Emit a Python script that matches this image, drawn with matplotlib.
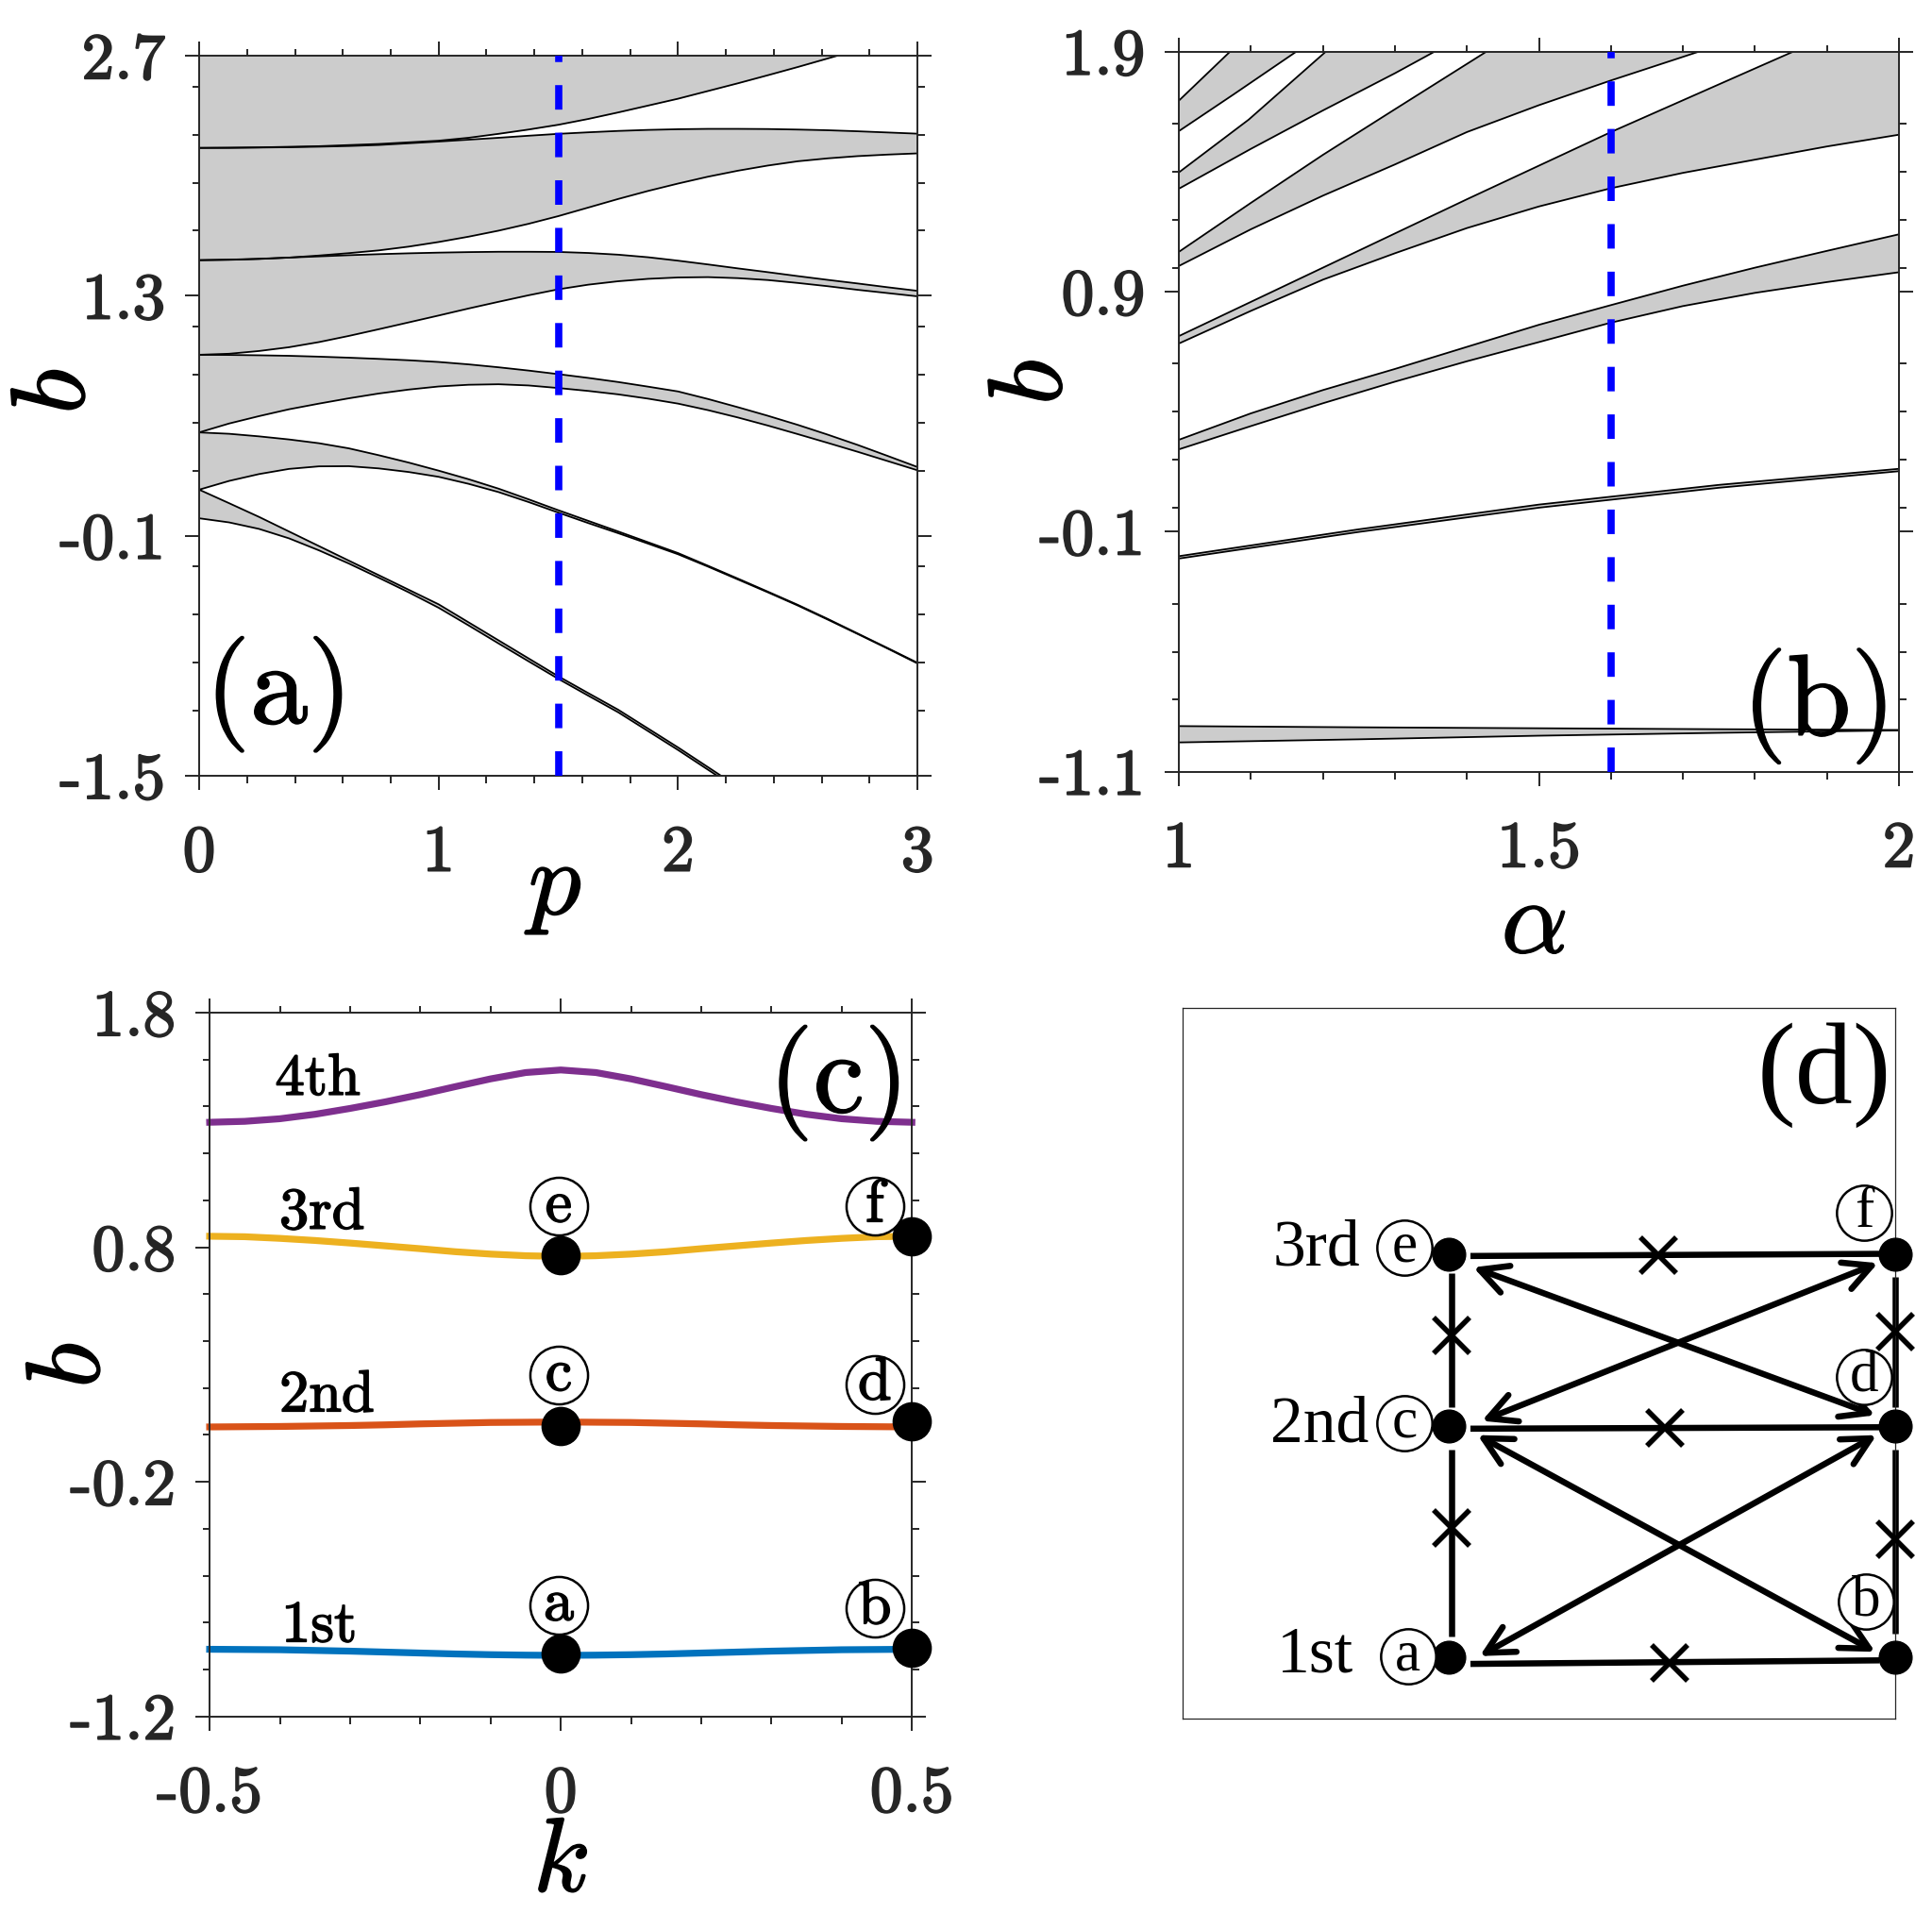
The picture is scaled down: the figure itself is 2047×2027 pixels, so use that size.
import matplotlib
matplotlib.use('Agg')
import matplotlib.pyplot as plt
import matplotlib.patheffects as pe
from matplotlib.ticker import FixedLocator, FixedFormatter
from matplotlib.patches import FancyArrowPatch
import numpy as np

plt.rcParams['mathtext.fontset'] = 'cm'
plt.rcParams['axes.unicode_minus'] = False

INK = '#262626'
GRAY = '#cccccc'
BLUE = '#0000ff'

# ---------------- panel (a): bands vs p ----------------
p_A1 = [0, 0.25, 0.5, 0.75, 1.0, 1.125, 1.25, 1.375, 1.5, 1.625, 1.75, 1.875, 2.0,
        2.125, 2.25, 2.375, 2.5, 2.663]
b_A1 = [2.163, 2.166, 2.173, 2.186, 2.205, 2.222, 2.245, 2.27, 2.298, 2.332, 2.37, 2.41, 2.45,
        2.495, 2.54, 2.587, 2.635, 2.70]

p_grid = [0, 0.125, 0.25, 0.375, 0.5, 0.625, 0.75, 0.875, 1.0, 1.125, 1.25, 1.375, 1.5,
          1.625, 1.75, 1.875, 2.0, 2.125, 2.25, 2.375, 2.5, 2.625, 2.75, 2.875, 3.0]
b_B_up = [2.163, 2.163, 2.165, 2.167, 2.17, 2.174, 2.18, 2.19, 2.2, 2.211, 2.222, 2.234, 2.245,
          2.254, 2.262, 2.268, 2.272, 2.274, 2.274, 2.273, 2.27, 2.266, 2.26, 2.253, 2.246]
b_B_lo = [1.508, 1.51, 1.515, 1.523, 1.535, 1.549, 1.565, 1.587, 1.614, 1.645, 1.68, 1.72, 1.765,
          1.815, 1.865, 1.912, 1.955, 1.995, 2.03, 2.06, 2.085, 2.102, 2.115, 2.124, 2.131]
b_C_up = [1.508, 1.511, 1.516, 1.523, 1.53, 1.537, 1.543, 1.548, 1.552, 1.555, 1.557, 1.557, 1.556,
          1.55, 1.54, 1.525, 1.505, 1.483, 1.46, 1.438, 1.415, 1.393, 1.372, 1.35, 1.329]
b_C_lo = [0.956, 0.962, 0.978, 1.0, 1.03, 1.066, 1.105, 1.145, 1.185, 1.226, 1.265, 1.303, 1.338,
          1.365, 1.385, 1.399, 1.407, 1.409, 1.403, 1.392, 1.375, 1.356, 1.335, 1.316, 1.297]
b_D_up = [0.956, 0.955, 0.953, 0.95, 0.945, 0.939, 0.932, 0.924, 0.914, 0.9, 0.883, 0.864, 0.843,
          0.821, 0.797, 0.77, 0.742, 0.698, 0.65, 0.6, 0.547, 0.49, 0.43, 0.366, 0.301]
b_D_lo = [0.503, 0.555, 0.598, 0.638, 0.671, 0.702, 0.73, 0.753, 0.771, 0.781, 0.784, 0.777, 0.762,
          0.745, 0.725, 0.7, 0.671, 0.633, 0.59, 0.543, 0.493, 0.442, 0.39, 0.336, 0.282]
b_E_up = [0.503, 0.495, 0.48, 0.462, 0.44, 0.41, 0.37, 0.327, 0.28, 0.23, 0.175, 0.113, 0.049,
          -0.013, -0.075, -0.138, -0.201, -0.275, -0.35, -0.426, -0.503, -0.585, -0.67, -0.755, -0.841]
b_E_lo = [0.169, 0.22, 0.26, 0.29, 0.305, 0.306, 0.293, 0.272, 0.244, 0.203, 0.155, 0.097, 0.035,
          -0.026, -0.085, -0.146, -0.208, -0.28, -0.355, -0.43, -0.507, -0.589, -0.673, -0.758, -0.845]

p_F = [0, 0.125, 0.25, 0.375, 0.5, 0.625, 0.75, 0.875, 1.0, 1.125, 1.25, 1.375, 1.5,
       1.625, 1.75, 1.875, 2.0, 2.125, 2.25]
b_F_up = [0.169, 0.09, 0.01, -0.075, -0.16, -0.245, -0.33, -0.415, -0.5, -0.605, -0.71, -0.815,
          -0.92, -1.018, -1.115, -1.225, -1.335, -1.45, -1.565]
b_F_lo = [0.002, -0.022, -0.06, -0.115, -0.185, -0.262, -0.345, -0.43, -0.52, -0.623, -0.728,
          -0.832, -0.935, -1.033, -1.13, -1.24, -1.35, -1.465, -1.58]

p_cut = 1.5

# ---------------- panel (b): bands vs alpha ----------------
a_L1 = [1.0, 1.071, 1.12];                      b_L1 = [1.696, 1.9, 2.04]
a_L2 = [1.0, 1.076, 1.163, 1.2];                b_L2 = [1.569, 1.722, 1.9, 1.975]
a_L3 = [1.0, 1.097, 1.204, 1.25];               b_L3 = [1.397, 1.617, 1.9, 2.02]
a_L4 = [1.0, 1.1, 1.2, 1.3, 1.355, 1.4];        b_L4 = [1.329, 1.495, 1.655, 1.81, 1.9, 1.97]
a_L5 = [1.0, 1.1, 1.2, 1.3, 1.427, 1.5, 1.8];   b_L5 = [1.066, 1.27, 1.47, 1.66, 1.9, 2.03, 2.5]
a_L6 = [1.0, 1.1, 1.2, 1.3, 1.4, 1.5, 1.6, 1.722, 1.8]
b_L6 = [1.007, 1.16, 1.3, 1.43, 1.565, 1.677, 1.78, 1.9, 1.98]
a_L7 = [1.0, 1.2, 1.4, 1.6, 1.8, 1.853, 2.0]
b_L7 = [0.715, 1.0, 1.285, 1.565, 1.83, 1.9, 2.09]
a_grid = [1.0, 1.1, 1.2, 1.3, 1.4, 1.5, 1.6, 1.7, 1.8, 1.9, 2.0]
b_L8 = [0.684, 0.82, 0.95, 1.06, 1.165, 1.255, 1.331, 1.395, 1.45, 1.505, 1.554]
b_L9 = [0.283, 0.393, 0.49, 0.578, 0.67, 0.762, 0.844, 0.925, 1.0, 1.07, 1.139]
b_L10 = [0.243, 0.34, 0.435, 0.525, 0.61, 0.69, 0.771, 0.84, 0.895, 0.94, 0.981]
a_q = [1.0, 1.25, 1.5, 1.75, 2.0]
b_L11u = [-0.202, -0.09, 0.013, 0.095, 0.162]
b_L11l = [-0.212, -0.101, 0.0, 0.083, 0.152]
b_L12 = [-0.910, -0.915, -0.919, -0.923, -0.926]
b_L13 = [-0.978, -0.965, -0.950, -0.938, -0.928]

a_cut = 1.6

# ---------------- panel (c): dispersion over k ----------------
k_vals = [-0.5, -0.45, -0.4, -0.35, -0.3, -0.25, -0.2, -0.15, -0.1, -0.05, 0,
          0.05, 0.1, 0.15, 0.2, 0.25, 0.3, 0.35, 0.4, 0.45, 0.5]
band4 = [1.333, 1.337, 1.348, 1.367, 1.392, 1.42, 1.451, 1.485, 1.518, 1.545, 1.556,
         1.545, 1.518, 1.485, 1.451, 1.42, 1.392, 1.367, 1.348, 1.337, 1.333]
band3 = [0.847, 0.845, 0.838, 0.829, 0.818, 0.806, 0.794, 0.781, 0.771, 0.764, 0.761,
         0.764, 0.771, 0.781, 0.794, 0.806, 0.818, 0.829, 0.838, 0.845, 0.847]
band2 = [0.034, 0.035, 0.036, 0.038, 0.04, 0.043, 0.047, 0.05, 0.053, 0.054, 0.055,
         0.054, 0.053, 0.05, 0.047, 0.043, 0.04, 0.038, 0.036, 0.035, 0.034]
band1 = [-0.914, -0.915, -0.916, -0.919, -0.922, -0.926, -0.93, -0.934, -0.937, -0.939, -0.94,
         -0.939, -0.937, -0.934, -0.93, -0.926, -0.922, -0.919, -0.916, -0.915, -0.914]
band_names = ['1st', '2nd', '3rd', '4th']
band_colors = ['#0072BD', '#D95319', '#EDB120', '#7E2F8E']
name_k = [-0.344, -0.333, -0.34, -0.346]
name_b = [-0.818, 0.164, 0.943, 1.514]

dot_k = [0, 0.5]
dot_b = {'1st': [-0.932, -0.909], '2nd': [0.039, 0.06], '3rd': [0.766, 0.847]}
circ_letters = ['a', 'b', 'c', 'd', 'e', 'f']
circ_k = [-0.003, 0.447, -0.003, 0.447, -0.003, 0.447]
circ_b = [-0.725, -0.74, 0.255, 0.216, 0.974, 0.974]

# ---------------- panel (d): coupling diagram ----------------
nodes = {'e': (0.374, 0.654), 'f': (1.0, 0.654),
         'c': (0.374, 0.412), 'd': (1.0, 0.412),
         'a': (0.374, 0.086), 'b': (1.0, 0.086)}
row_names = ['3rd', '2nd', '1st']
row_pos = [(0.188, 0.661), (0.192, 0.412), (0.186, 0.088)]
d_letter_pos = {'e': (0.311, 0.663), 'c': (0.311, 0.416), 'a': (0.316, 0.088),
                'f': (0.957, 0.712), 'd': (0.957, 0.481), 'b': (0.959, 0.165)}
plain_links = [((0.404, 0.651), (0.978, 0.654)),
               ((0.404, 0.408), (0.978, 0.410)),
               ((0.404, 0.077), (0.978, 0.082)),
               ((0.378, 0.627), (0.378, 0.438)),
               ((0.378, 0.378), (0.378, 0.116)),
               ((1.0, 0.622), (1.0, 0.438)),
               ((1.0, 0.378), (1.0, 0.120))]
cross_pts = [(0.668, 0.652), (0.677, 0.409), (0.684, 0.079),
             (0.378, 0.539), (0.378, 0.268), (1.0, 0.545), (1.0, 0.253)]
arrow_links = [((0.408, 0.635), (0.972, 0.427)),
               ((0.976, 0.641), (0.420, 0.419)),
               ((0.414, 0.399), (0.972, 0.094)),
               ((0.417, 0.088), (0.974, 0.399))]

TICK_FS = 50
LABEL_FS = 80
PANEL_FS = 88
BOLD = [pe.withStroke(linewidth=1.3, foreground=INK)]
BOLDK = [pe.withStroke(linewidth=1.1, foreground='k')]


def style_axes(ax, xlim, ylim, xmaj, xlab, xmin, ymaj, ylab, ymin):
    ax.set_xlim(xlim)
    ax.set_ylim(ylim)
    ax.xaxis.set_major_locator(FixedLocator(xmaj))
    ax.xaxis.set_major_formatter(FixedFormatter(xlab))
    ax.xaxis.set_minor_locator(FixedLocator(xmin))
    ax.yaxis.set_major_locator(FixedLocator(ymaj))
    ax.yaxis.set_major_formatter(FixedFormatter(ylab))
    ax.yaxis.set_minor_locator(FixedLocator(ymin))
    ax.tick_params(which='both', direction='out', top=True, right=True,
                   color=INK, width=1.4, labelcolor=INK,
                   labelsize=TICK_FS, labelfontfamily='cmr10')
    ax.tick_params(which='major', length=10.8)
    ax.tick_params(which='minor', length=5.4)
    ax.tick_params(axis='x', which='major', pad=27)
    ax.tick_params(axis='y', which='major', pad=15)
    for s in ax.spines.values():
        s.set_linewidth(1.4)
        s.set_color(INK)


def band(ax, xl, yl, xu, yu):
    ax.fill(np.concatenate([xl, xu[::-1]]), np.concatenate([yl, yu[::-1]]),
            color=GRAY, lw=0, zorder=1)
    ax.plot(xl, yl, color='k', lw=1.3, zorder=2)
    ax.plot(xu, yu, color='k', lw=1.3, zorder=2)


fig = plt.figure(figsize=(20.47, 20.27), dpi=100)

# ---- (a)
axa = fig.add_axes([0.1031, 0.5945, 0.3718, 0.3763])
style_axes(axa, (0, 3), (-1.5, 2.7), [0, 1, 2, 3], ['0', '1', '2', '3'],
           np.arange(0, 3.01, 0.2), [-1.5, -0.1, 1.3, 2.7], ['-1.5', '-0.1', '1.3', '2.7'],
           [-1.12, -0.84, -0.56, -0.28, 0.28, 0.56, 0.84, 1.12, 1.68, 1.96, 2.24, 2.52])
axa.fill_between(p_A1, b_A1, 2.7, color=GRAY, lw=0, zorder=1)
axa.plot(p_A1, b_A1, color='k', lw=1.3, zorder=2)
pg = np.array(p_grid)
band(axa, pg, np.array(b_B_lo), pg, np.array(b_B_up))
band(axa, pg, np.array(b_C_lo), pg, np.array(b_C_up))
band(axa, pg, np.array(b_D_lo), pg, np.array(b_D_up))
band(axa, pg, np.array(b_E_lo), pg, np.array(b_E_up))
pf = np.array(p_F)
band(axa, pf, np.array(b_F_lo), pf, np.array(b_F_up))
axa.plot([p_cut, p_cut], [-1.5, 2.7], color=BLUE, lw=5.5, ls=(0, (3.4, 3.2)), zorder=3)
axa.text(0.111, 0.113, '(a)', transform=axa.transAxes, ha='center', va='center',
         family='cmr10', fontsize=PANEL_FS, path_effects=BOLDK)
axa.text(-0.2, 0.534, '$b$', transform=axa.transAxes, ha='center', va='center',
         fontsize=LABEL_FS, rotation=90, path_effects=BOLDK)
axa.text(0.498, -0.153, '$p$', transform=axa.transAxes, ha='center', va='center',
         fontsize=LABEL_FS, path_effects=BOLDK)

# ---- (b)
axb = fig.add_axes([0.6102, 0.5966, 0.3727, 0.3764])
style_axes(axb, (1, 2), (-1.1, 1.9), [1, 1.5, 2], ['1', '1.5', '2'],
           np.arange(1, 2.001, 0.1), [-1.1, -0.1, 0.9, 1.9], ['-1.1', '-0.1', '0.9', '1.9'],
           [-0.8, -0.6, -0.4, 0, 0.2, 0.4, 0.6, 1.0, 1.2, 1.4, 1.6])
A = np.array
band(axb, A(a_L2), A(b_L2), A(a_L1), A(b_L1))
band(axb, A(a_L4), A(b_L4), A(a_L3), A(b_L3))
band(axb, A(a_L6), A(b_L6), A(a_L5), A(b_L5))
band(axb, A(a_grid), A(b_L8), A(a_L7), A(b_L7))
band(axb, A(a_grid), A(b_L10), A(a_grid), A(b_L9))
band(axb, A(a_q), A(b_L11l), A(a_q), A(b_L11u))
band(axb, A(a_q), A(b_L13), A(a_q), A(b_L12))
axb.plot([a_cut, a_cut], [-1.1, 1.9], color=BLUE, lw=5.5, ls=(0, (3.4, 3.2)), zorder=3)
axb.text(0.889, 0.091, '(b)', transform=axb.transAxes, ha='center', va='center',
         family='cmr10', fontsize=PANEL_FS, path_effects=BOLDK)
axb.text(-0.203, 0.541, '$b$', transform=axb.transAxes, ha='center', va='center',
         fontsize=LABEL_FS, rotation=90, path_effects=BOLDK)
axb.text(0.493, -0.212, r'$\alpha$', transform=axb.transAxes, ha='center', va='center',
         fontsize=LABEL_FS, path_effects=BOLDK)

# ---- (c)
axc = fig.add_axes([0.1085, 0.1028, 0.3635, 0.3678])
style_axes(axc, (-0.5, 0.5), (-1.2, 1.8), [-0.5, 0, 0.5], ['-0.5', '0', '0.5'],
           np.arange(-0.5, 0.501, 0.1), [-1.2, -0.2, 0.8, 1.8], ['-1.2', '-0.2', '0.8', '1.8'],
           np.arange(-1.2, 1.801, 0.2))
for vals, name, col, tk, tb in zip([band1, band2, band3, band4], band_names, band_colors,
                                   name_k, name_b):
    axc.plot(k_vals, vals, color=col, lw=5.2, zorder=2, clip_on=False)
    axc.text(tk, tb, name, ha='center', va='center', family='cmr10', fontsize=45,
             path_effects=BOLDK)
    if name in dot_b:
        axc.plot(dot_k, dot_b[name], 'o', color='k', ms=29, zorder=4, clip_on=False)
for let, ck, cb in zip(circ_letters, circ_k, circ_b):
    axc.plot(ck, cb, 'o', ms=44, mfc='white', mec='k', mew=1.8, zorder=5, clip_on=False)
    axc.text(ck, cb, let, ha='center', va='center', family='cmr10', fontsize=46, zorder=6,
             path_effects=BOLDK)
axc.text(0.896, 0.9, '(c)', transform=axc.transAxes, ha='center', va='center',
         family='cmr10', fontsize=PANEL_FS, path_effects=BOLDK)
axc.text(-0.198, 0.499, '$b$', transform=axc.transAxes, ha='center', va='center',
         fontsize=LABEL_FS, rotation=90, path_effects=BOLDK)
axc.text(0.5, -0.208, '$k$', transform=axc.transAxes, ha='center', va='center',
         fontsize=LABEL_FS, path_effects=BOLDK)

# ---- (d)
axd = fig.add_axes([0.6121, 0.1016, 0.3688, 0.3715])
axd.set_xlim(0, 1)
axd.set_ylim(0, 1)
axd.set_xticks([])
axd.set_yticks([])
for s in axd.spines.values():
    s.set_linewidth(0.9)
    s.set_color(INK)
SERIF = 'Liberation Serif'
for (x0, y0), (x1, y1) in plain_links:
    axd.plot([x0, x1], [y0, y1], color='k', lw=4.7, solid_capstyle='butt', clip_on=False)
for x, y in cross_pts:
    axd.plot(x, y, marker='x', color='k', ms=27, mew=4.0, clip_on=False, zorder=4)
for p0, p1 in arrow_links:
    axd.add_patch(FancyArrowPatch(p0, p1, arrowstyle='<->,head_length=0.7,head_width=0.36',
                                  mutation_scale=30, lw=4.7, color='k', shrinkA=0, shrinkB=0,
                                  transform=axd.transAxes, clip_on=False, zorder=3))
for key, (x, y) in nodes.items():
    axd.plot(x, y, 'o', color='k', ms=25, clip_on=False, zorder=5)
for name, (x, y) in zip(row_names, row_pos):
    axd.text(x, y, name, ha='center', va='center', family=SERIF, fontsize=50)
for let, (x, y) in d_letter_pos.items():
    axd.plot(x, y, 'o', ms=42, mfc='white', mec='k', mew=1.8, zorder=6, clip_on=False)
    axd.text(x, y, let, ha='center', va='center', family=SERIF, fontsize=44, zorder=7)
axd.text(0.90, 0.906, '(d)', transform=axd.transAxes, ha='center', va='center',
         family=SERIF, fontsize=PANEL_FS)

fig.canvas.draw()
for ax in (axa, axb, axc):
    for lab in ax.get_xticklabels() + ax.get_yticklabels():
        lab.set_path_effects(BOLD)

fig.savefig('out.png', dpi=100)
